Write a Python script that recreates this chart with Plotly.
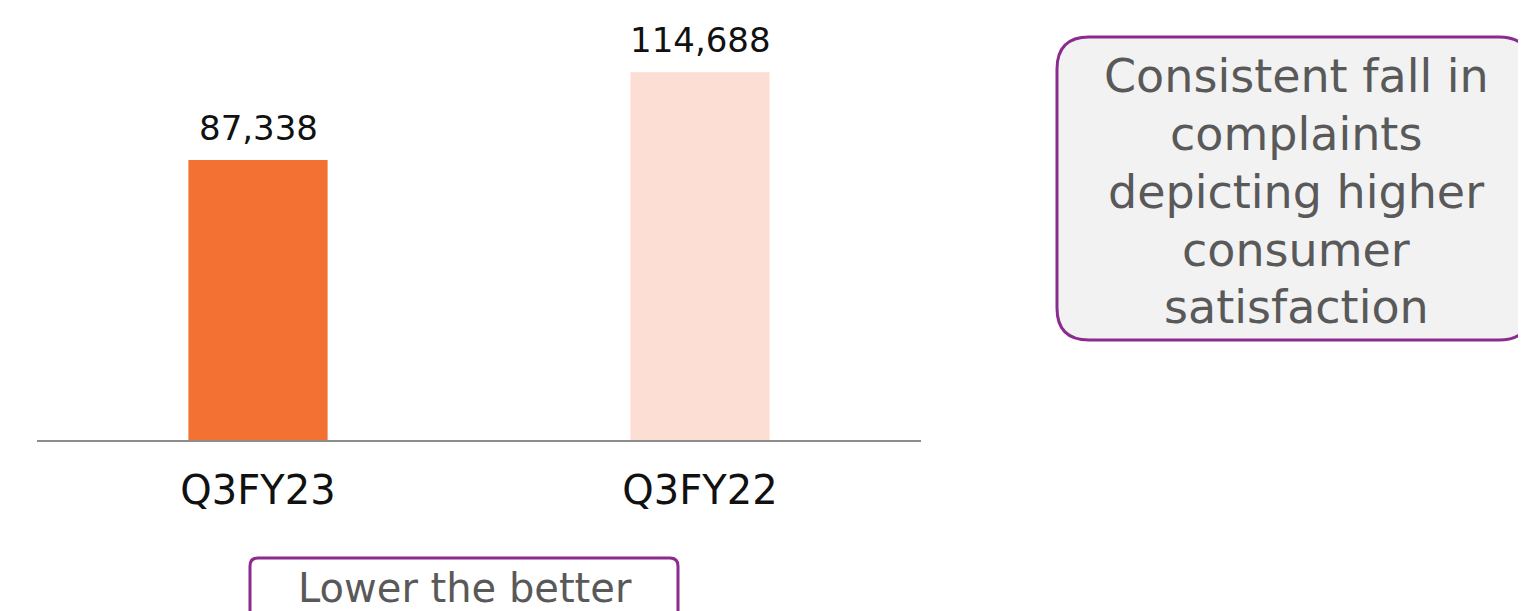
import plotly.graph_objects as go

categories = ["Q3FY23", "Q3FY22"]
complaints = [87338, 114688]
bar_colors = ["#F37133", "#FCDED4"]

side_note = ["Consistent fall in", "complaints", "depicting higher", "consumer", "satisfaction"]
bottom_note = "Lower the better"

OFF = 8  # browser body margin
W, H = 1526 - OFF, 611 - OFF
L, R, T, B = 37 - OFF, 1526 - 921, 20 - OFF, 611 - 440
PW, PH = W - L - R, H - T - B
YMAX = 131000

def px(x):
    return (x - OFF - L) / PW

def py(y):
    return (H - B - (y - OFF)) / PH

def rounded_rect(x0, y0, x1, y1, r):
    pts = [
        ("M", [(x0 + r, y0)]),
        ("L", [(x1 - r, y0)]),
        ("Q", [(x1, y0), (x1, y0 + r)]),
        ("L", [(x1, y1 - r)]),
        ("Q", [(x1, y1), (x1 - r, y1)]),
        ("L", [(x0 + r, y1)]),
        ("Q", [(x0, y1), (x0, y1 - r)]),
        ("L", [(x0, y0 + r)]),
        ("Q", [(x0, y0), (x0 + r, y0)]),
    ]
    s = ""
    for cmd, ps in pts:
        s += cmd + " " + " ".join(f"{px(a):.5f},{py(b):.5f}" for a, b in ps) + " "
    return s + "Z"

FONT = "DejaVu Sans"

fig = go.Figure()
fig.add_trace(go.Bar(
    x=categories, y=complaints,
    marker=dict(color=bar_colors, line=dict(width=0)),
    cliponaxis=False, width=0.315, hoverinfo="skip",
))

for c, v in zip(categories, complaints):
    fig.add_annotation(x=c, y=v, text=f"{v:,}", showarrow=False,
                       yanchor="bottom", yshift=10,
                       font=dict(size=34, color="#111111", family=FONT))

fig.add_shape(type="path", xref="paper", yref="paper",
              path=rounded_rect(1057, 37, 1531, 340, 32),
              fillcolor="#F2F2F2", line=dict(color="#8B2A8F", width=3), layer="below")
fig.add_shape(type="path", xref="paper", yref="paper",
              path=rounded_rect(250, 558, 678, 640, 8),
              fillcolor="#FFFFFF", line=dict(color="#8B2A8F", width=3), layer="below")

line_centers = [76, 134, 192, 250, 307]
for txt, yc in zip(side_note, line_centers):
    fig.add_annotation(xref="paper", yref="paper", x=px(1296), y=py(yc),
                       text=txt, showarrow=False,
                       font=dict(size=46, color="#595959", family=FONT),
                       xanchor="center", yanchor="middle")
fig.add_annotation(xref="paper", yref="paper", x=px(465), y=py(588),
                   text=bottom_note, showarrow=False,
                   font=dict(size=40, color="#595959", family=FONT),
                   xanchor="center", yanchor="middle")

fig.update_layout(
    width=W, height=H,
    margin=dict(l=L, r=R, t=T, b=B, pad=0),
    paper_bgcolor="white", plot_bgcolor="white",
    showlegend=False,
    xaxis=dict(showline=True, linecolor="#8C8C8C", linewidth=2, showgrid=False,
               ticks="", ticklabelstandoff=14,
               tickfont=dict(size=40, color="#111111", family=FONT), zeroline=False),
    yaxis=dict(range=[0, YMAX], visible=False, showgrid=False, zeroline=False),
)

fig.write_html("out.html")
